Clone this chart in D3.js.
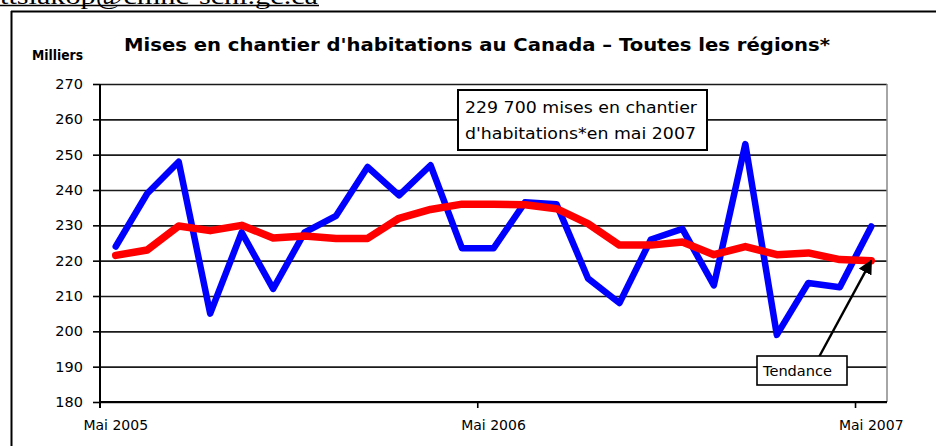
<!DOCTYPE html>
<html>
<head>
<meta charset="utf-8">
<script src="https://cdn.jsdelivr.net/npm/d3@7"></script>
<style>
  body { margin: 0; background: #fff; }
  svg { display: block; }
  text { font-family: "DejaVu Sans", sans-serif; fill: #000; }
</style>
</head>
<body>
<div id="chart"></div>
<script>
// months, May 2005 .. May 2007
const months = ["Mai 2005","Juin 2005","Juil 2005","Août 2005","Sept 2005","Oct 2005","Nov 2005","Déc 2005",
  "Janv 2006","Févr 2006","Mars 2006","Avr 2006","Mai 2006","Juin 2006","Juil 2006","Août 2006","Sept 2006",
  "Oct 2006","Nov 2006","Déc 2006","Janv 2007","Févr 2007","Mars 2007","Avr 2007","Mai 2007"];
// housing starts, thousands (SAAR)
const starts = [224, 239, 248, 205, 228, 212, 228, 232.7, 246.5, 238.5, 247, 223.5, 223.5,
  236.5, 236, 215, 208, 226, 229, 213, 253, 199, 213.7, 212.5, 229.7];
// trend
const trend = [221.5, 223, 229.8, 228.5, 230, 226.4, 227, 226.3, 226.3, 232, 234.5, 236, 236,
  235.8, 234.7, 230.5, 224.4, 224.4, 225.3, 221.7, 224, 221.7, 222.2, 220.3, 220];
const xTickLabels = ["Mai 2005", "Mai 2006", "Mai 2007"];
const yTicks = [180, 190, 200, 210, 220, 230, 240, 250, 260, 270];

const W = 936, H = 446;
const mLeft = 100, mRight = 887, mTop = 84, mBottom = 402;

const svg = d3.select("#chart").append("svg").attr("width", W).attr("height", H);

// email line at top, clipped by the page edge as in the source
svg.append("text")
  .attr("x", 0).attr("y", 3.5)
  .attr("font-size", 24)
  .attr("textLength", 318).attr("lengthAdjust", "spacingAndGlyphs")
  .style("font-family", "Liberation Serif, serif")
  .text("ttsiakop@cmhc-schl.gc.ca");
svg.append("line").attr("x1", 0).attr("x2", 319).attr("y1", 5.5).attr("y2", 5.5)
  .attr("stroke", "#000").attr("stroke-width", 1.5);

// chart frame
svg.append("line").attr("x1", 11).attr("x2", W).attr("y1", 11.5).attr("y2", 11.5)
  .attr("stroke", "#000").attr("stroke-width", 2);
svg.append("line").attr("x1", 11.5).attr("x2", 11.5).attr("y1", 11).attr("y2", H)
  .attr("stroke", "#000").attr("stroke-width", 2);

const x = d3.scaleBand().domain(months).range([mLeft, mRight]).padding(0);
const y = d3.scaleLinear().domain([180, 270]).range([mBottom, mTop]);

// gridlines
svg.append("g")
  .attr("transform", `translate(${mLeft},0)`)
  .call(d3.axisLeft(y).tickValues(yTicks).tickSize(-(mRight - mLeft)).tickFormat(""))
  .call(g => g.select(".domain").remove())
  .selectAll("line").attr("stroke", "#1a1a1a").attr("stroke-width", 1.6);

// right border of plot
svg.append("line").attr("x1", mRight).attr("x2", mRight).attr("y1", mTop).attr("y2", mBottom)
  .attr("stroke", "#888").attr("stroke-width", 1.5);

// y axis
const ya = svg.append("g")
  .attr("transform", `translate(${mLeft},0)`)
  .call(d3.axisLeft(y).tickValues(yTicks).tickSize(7).tickPadding(10));
ya.select(".domain").attr("stroke", "#000").attr("stroke-width", 2).attr("d", `M0,${mTop}V${mBottom + 6}`);
ya.selectAll("line").attr("stroke", "#000").attr("stroke-width", 1.6);
ya.selectAll("text").attr("font-size", 14.5).style("font-family", "DejaVu Sans, sans-serif");

// x axis
const xa = svg.append("g")
  .attr("transform", `translate(0,${mBottom})`)
  .call(d3.axisBottom(x).tickValues(xTickLabels).tickSize(0).tickPadding(18));
xa.select(".domain").attr("stroke", "#000").attr("stroke-width", 2).attr("d", `M${mLeft},0H${mRight}`);
xa.selectAll("text").attr("font-size", 14).style("font-family", "DejaVu Sans, sans-serif");
// tick marks sit on the category boundaries
svg.append("g").selectAll("line")
  .data(xTickLabels)
  .enter().append("line")
  .attr("x1", d => x(d)).attr("x2", d => x(d))
  .attr("y1", mBottom).attr("y2", mBottom + 6)
  .attr("stroke", "#000").attr("stroke-width", 1.6);

// series
const line = d3.line()
  .x((d, i) => x(months[i]) + x.bandwidth() / 2)
  .y(d => y(d));

svg.append("path").datum(starts)
  .attr("d", line).attr("fill", "none")
  .attr("stroke", "#0000ff").attr("stroke-width", 6.5)
  .attr("stroke-linejoin", "round").attr("stroke-linecap", "round");

svg.append("path").datum(trend)
  .attr("d", line).attr("fill", "none")
  .attr("stroke", "#ff0000").attr("stroke-width", 7.5)
  .attr("stroke-linejoin", "round").attr("stroke-linecap", "round");

// title
svg.append("text")
  .attr("x", 124).attr("y", 50.5)
  .attr("font-size", 17.5).attr("font-weight", "bold")
  .attr("textLength", 706).attr("lengthAdjust", "spacingAndGlyphs")
  .text("Mises en chantier d'habitations au Canada – Toutes les régions*");

svg.append("text")
  .attr("x", 32).attr("y", 60)
  .attr("font-size", 13.5).attr("font-weight", 600)
  .attr("textLength", 51).attr("lengthAdjust", "spacingAndGlyphs")
  .text("Milliers");

// annotation box
svg.append("rect")
  .attr("x", 458).attr("y", 90).attr("width", 249).attr("height", 60)
  .attr("fill", "#fff").attr("stroke", "#000").attr("stroke-width", 2);
svg.append("text")
  .attr("x", 465).attr("y", 113).attr("font-size", 16)
  .attr("textLength", 232).attr("lengthAdjust", "spacingAndGlyphs")
  .text("229 700 mises en chantier");
svg.append("text")
  .attr("x", 465).attr("y", 139).attr("font-size", 16)
  .attr("textLength", 231).attr("lengthAdjust", "spacingAndGlyphs")
  .text("d'habitations*en mai 2007");

// trend label and arrow
svg.append("defs").append("marker")
  .attr("id", "arr").attr("viewBox", "0 0 10 10")
  .attr("refX", 9).attr("refY", 5)
  .attr("markerWidth", 6).attr("markerHeight", 6)
  .attr("orient", "auto")
  .append("path").attr("d", "M0,0L10,5L0,10z").attr("fill", "#000");

const last = months.length - 1;
svg.append("line")
  .attr("x1", 819).attr("y1", 357)
  .attr("x2", x(months[last]) + x.bandwidth() / 2)
  .attr("y2", y(trend[last]))
  .attr("stroke", "#000").attr("stroke-width", 2.4)
  .attr("marker-end", "url(#arr)");

svg.append("rect")
  .attr("x", 757).attr("y", 356).attr("width", 90).attr("height", 29)
  .attr("fill", "#fff").attr("stroke", "#000").attr("stroke-width", 1.6);
svg.append("text")
  .attr("x", 763).attr("y", 376).attr("font-size", 13.5)
  .attr("textLength", 69).attr("lengthAdjust", "spacingAndGlyphs")
  .text("Tendance");
</script>
</body>
</html>
